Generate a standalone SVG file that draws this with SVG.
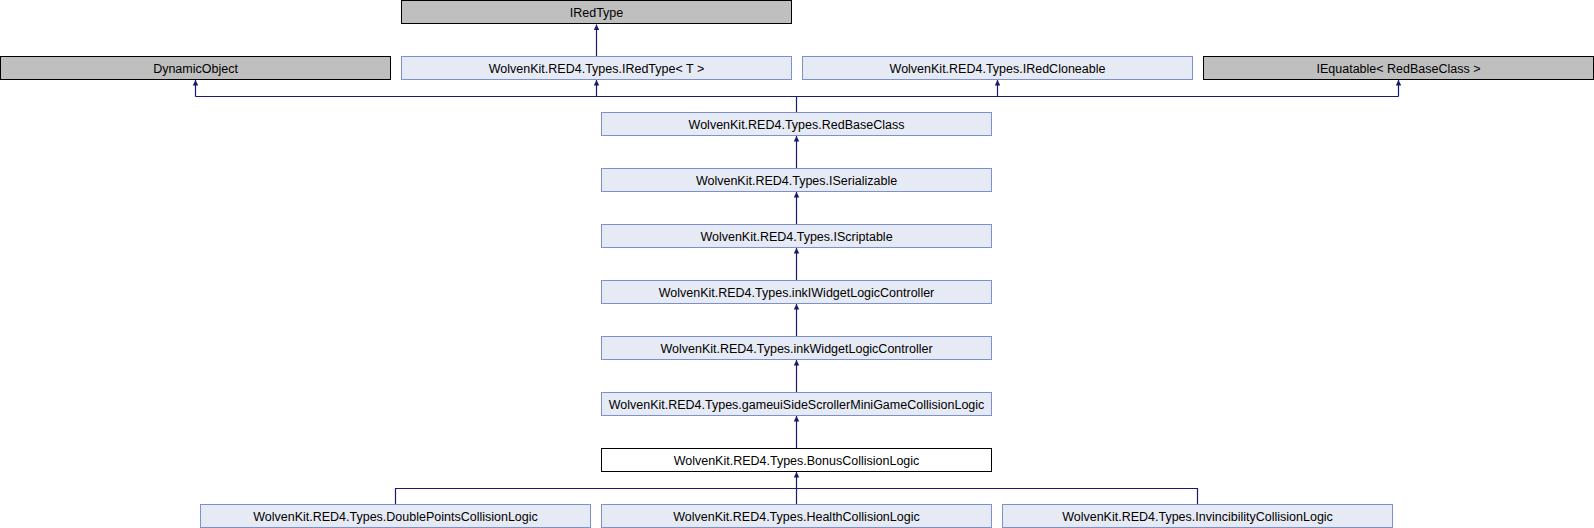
<svg xmlns="http://www.w3.org/2000/svg" width="1594" height="528" viewBox="0 0 1594 528">
<defs>
<style>
.n rect{fill:#E6EAF4;stroke:#7C91C9;stroke-width:1}
.ext rect{fill:#BFBFBF;stroke:#000;stroke-width:1}
.cur rect{fill:#FFFFFF;stroke:#000;stroke-width:1}
text{font-family:"Liberation Sans",Arial,Helvetica,sans-serif;font-size:12.5px;fill:#000;text-anchor:middle}
.e{stroke:#191970;stroke-width:1.2;fill:none}
.a{stroke:#191970;stroke-width:1.2;fill:none;marker-end:url(#ah)}
</style>
<marker id="ah" viewBox="0 0 10 10" refX="10" refY="5" markerUnits="userSpaceOnUse" markerWidth="7" markerHeight="5.5" orient="auto">
<path d="M0,0 L10,5 L0,10 z" fill="#191970"/>
</marker>
</defs>
<rect width="1594" height="528" fill="#fff"/>
<g id="edges">
<path class="a" d="M596.5,56.5 V24.5"/>
<path class="e" d="M796.5,112.5 V96.5 M195.5,96.5 H1398.5"/>
<path class="a" d="M195.5,96.5 V80"/>
<path class="a" d="M596.5,96.5 V80"/>
<path class="a" d="M997.5,96.5 V80"/>
<path class="a" d="M1398.5,96.5 V80"/>
<path class="a" d="M796.5,168.5 V136"/>
<path class="a" d="M796.5,224.5 V192"/>
<path class="a" d="M796.5,280.5 V248"/>
<path class="a" d="M796.5,336.5 V304"/>
<path class="a" d="M796.5,392.5 V360"/>
<path class="a" d="M796.5,448.5 V416"/>
<path class="e" d="M395.5,504.5 V488.5 H1197.5 V504.5"/>
<path class="a" d="M796.5,504.5 V472"/>
</g>
<g id="IRedType" class="ext"><rect x="401.5" y="0.5" width="390" height="23"/><text x="596.5" y="16.5">IRedType</text></g>
<g id="DynamicObject" class="ext"><rect x="0.5" y="56.5" width="390" height="23"/><text x="195.5" y="72.5">DynamicObject</text></g>
<g id="IRedTypeT" class="n"><rect x="401.5" y="56.5" width="390" height="23"/><text x="596.5" y="72.5">WolvenKit.RED4.Types.IRedType&lt; T &gt;</text></g>
<g id="IRedCloneable" class="n"><rect x="802.5" y="56.5" width="390" height="23"/><text x="997.5" y="72.5">WolvenKit.RED4.Types.IRedCloneable</text></g>
<g id="IEquatable" class="ext"><rect x="1203.5" y="56.5" width="390" height="23"/><text x="1398.5" y="72.5">IEquatable&lt; RedBaseClass &gt;</text></g>
<g id="RedBaseClass" class="n"><rect x="601.5" y="112.5" width="390" height="23"/><text x="796.5" y="128.5">WolvenKit.RED4.Types.RedBaseClass</text></g>
<g id="ISerializable" class="n"><rect x="601.5" y="168.5" width="390" height="23"/><text x="796.5" y="184.5">WolvenKit.RED4.Types.ISerializable</text></g>
<g id="IScriptable" class="n"><rect x="601.5" y="224.5" width="390" height="23"/><text x="796.5" y="240.5">WolvenKit.RED4.Types.IScriptable</text></g>
<g id="inkIWidgetLogicController" class="n"><rect x="601.5" y="280.5" width="390" height="23"/><text x="796.5" y="296.5">WolvenKit.RED4.Types.inkIWidgetLogicController</text></g>
<g id="inkWidgetLogicController" class="n"><rect x="601.5" y="336.5" width="390" height="23"/><text x="796.5" y="352.5">WolvenKit.RED4.Types.inkWidgetLogicController</text></g>
<g id="gameuiSideScroller" class="n"><rect x="601.5" y="392.5" width="390" height="23"/><text x="796.5" y="408.5">WolvenKit.RED4.Types.gameuiSideScrollerMiniGameCollisionLogic</text></g>
<g id="BonusCollisionLogic" class="cur"><rect x="601.5" y="448.5" width="390" height="23"/><text x="796.5" y="464.5">WolvenKit.RED4.Types.BonusCollisionLogic</text></g>
<g id="DoublePoints" class="n"><rect x="200.5" y="504.5" width="390" height="23"/><text x="395.5" y="520.5">WolvenKit.RED4.Types.DoublePointsCollisionLogic</text></g>
<g id="Health" class="n"><rect x="601.5" y="504.5" width="390" height="23"/><text x="796.5" y="520.5">WolvenKit.RED4.Types.HealthCollisionLogic</text></g>
<g id="Invincibility" class="n"><rect x="1002.5" y="504.5" width="390" height="23"/><text x="1197.5" y="520.5">WolvenKit.RED4.Types.InvincibilityCollisionLogic</text></g>
</svg>
